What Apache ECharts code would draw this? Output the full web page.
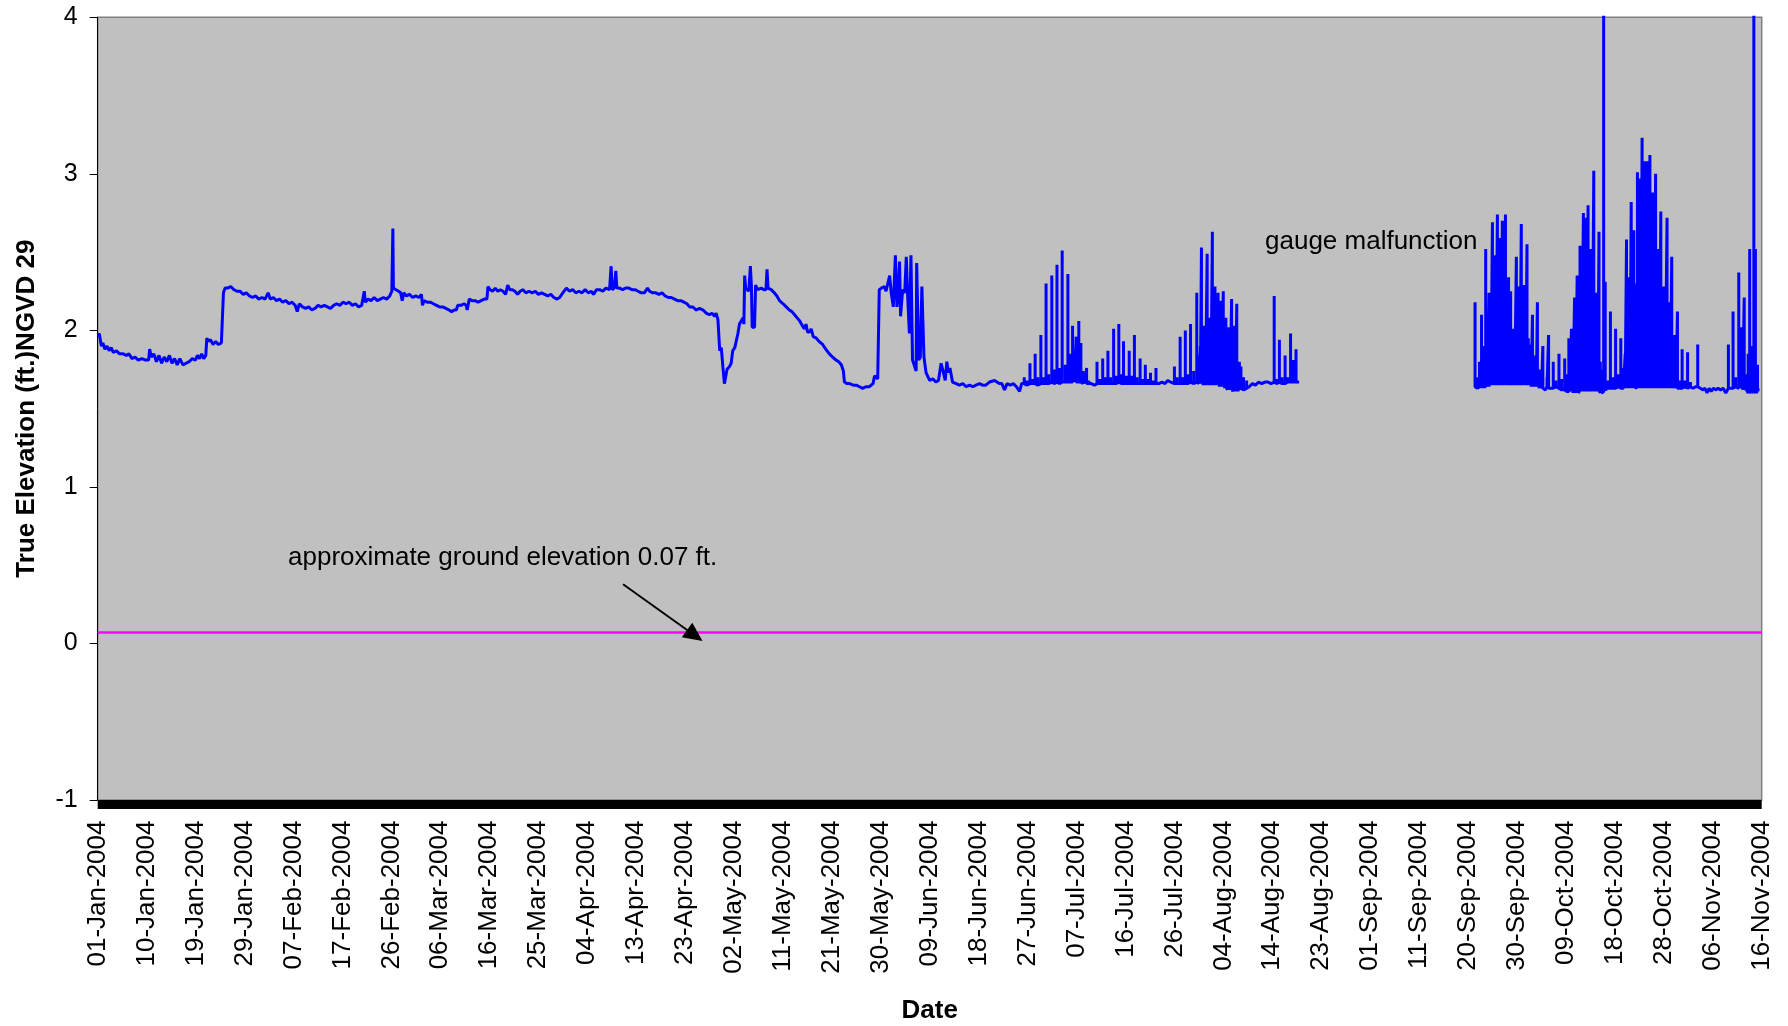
<!DOCTYPE html>
<html><head><meta charset="utf-8">
<script src="https://cdn.jsdelivr.net/npm/echarts@6/dist/echarts.min.js"></script>
<style>html,body{margin:0;padding:0;background:#fff}#chart{width:1788px;height:1026px}</style>
</head><body><div id="chart"></div>
<script>
// ---- data (x = days since 01-Jan-2004, y = elevation ft NGVD 29) ----
const startDateUTC = Date.UTC(2004, 0, 1);
const axisDivisions = 34;
const axisStepDays = 9.418;     // date axis major unit (01-Jan-2004 .. 16-Nov-2004)
const axisDays = axisStepDays * axisDivisions;
const yMin = -1, yMax = 4, yStep = 1;
const monthNames = ['Jan','Feb','Mar','Apr','May','Jun','Jul','Aug','Sep','Oct','Nov','Dec'];
const groundElevation = [[0, 0.07], [320.2, 0.07]];

// pairs [day, level]; triples [day, base, peak] = short spike
const levelJanJun = [[0.1,1.96],[0.3,1.98],[0.7,1.9],[1.0,1.92],[1.4,1.88],[1.8,1.9],[2.2,1.87],[2.6,1.89],[3.0,1.86],[3.6,1.87],[4.2,1.85],[4.9,1.85],[5.5,1.84],[6.0,1.85],[6.6,1.82],[7.2,1.83],[7.8,1.81],[8.5,1.82],[9.2,1.81],[9.8,1.81],[10.0,1.88],[10.3,1.83],[10.8,1.85],[11.3,1.8],[11.8,1.84],[12.3,1.79],[12.8,1.83],[13.3,1.8],[13.8,1.84],[14.3,1.79],[14.8,1.82],[15.3,1.78],[15.8,1.82],[16.4,1.78],[17.0,1.79],[17.6,1.8],[18.2,1.82],[18.8,1.81],[19.2,1.84],[19.6,1.82],[20.0,1.85],[20.4,1.82],[20.8,1.84],[21.0,1.95],[21.3,1.93],[21.7,1.94],[22.2,1.91],[22.7,1.93],[23.2,1.91],[23.8,1.92],[24.1,1.93],[24.2,2.24],[24.5,2.27],[25.0,2.27],[25.6,2.28],[26.2,2.26],[26.8,2.25],[27.4,2.25],[28.0,2.23],[28.6,2.24],[29.2,2.22],[29.8,2.21],[30.4,2.22],[31.0,2.2],[31.6,2.21],[32.2,2.2],[32.8,2.24],[33.2,2.2],[33.8,2.21],[34.4,2.19],[35.0,2.2],[35.6,2.18],[36.2,2.19],[36.8,2.17],[37.4,2.18],[38.0,2.16],[38.4,2.12],[38.8,2.17],[39.4,2.15],[40.0,2.14],[40.6,2.15],[41.2,2.13],[41.8,2.14],[42.4,2.16],[43.0,2.15],[43.6,2.16],[44.2,2.15],[44.8,2.14],[45.4,2.16],[46.0,2.17],[46.6,2.16],[47.2,2.18],[47.8,2.17],[48.4,2.18],[49.0,2.16],[49.6,2.17],[50.2,2.15],[50.8,2.16],[51.3,2.25],[51.5,2.18],[52.0,2.2],[52.6,2.19],[53.2,2.21],[53.8,2.19],[54.4,2.2],[55.0,2.21],[55.6,2.2],[56.2,2.22],[56.6,2.25],[56.8,2.65],[56.9,2.27],[57.4,2.26],[57.9,2.25],[58.3,2.24],[58.6,2.19],[58.9,2.24],[59.4,2.22],[60.0,2.23],[60.6,2.21],[61.2,2.22],[61.8,2.21],[62.3,2.23],[62.5,2.16],[62.8,2.19],[63.4,2.18],[64.0,2.18],[64.6,2.17],[65.2,2.16],[65.8,2.15],[66.4,2.15],[67.0,2.14],[67.6,2.13],[68.1,2.12],[68.6,2.13],[69.0,2.13],[69.3,2.16],[69.9,2.16],[70.5,2.17],[70.9,2.16],[71.1,2.13],[71.5,2.2],[72.0,2.19],[72.6,2.19],[73.2,2.18],[73.8,2.19],[74.4,2.2],[74.9,2.2],[75.1,2.28],[75.5,2.26],[76.0,2.25],[76.5,2.27],[77.0,2.25],[77.5,2.26],[78.0,2.25],[78.5,2.23],[78.9,2.29],[79.3,2.26],[79.8,2.26],[80.3,2.25],[80.8,2.23],[81.3,2.25],[81.8,2.26],[82.4,2.24],[83.0,2.25],[83.6,2.24],[84.2,2.25],[84.8,2.23],[85.4,2.24],[86.0,2.23],[86.6,2.22],[87.2,2.23],[87.8,2.21],[88.4,2.2],[88.9,2.21],[89.5,2.24],[90.2,2.27],[90.8,2.25],[91.4,2.26],[92.0,2.24],[92.6,2.25],[93.2,2.24],[93.8,2.26],[94.4,2.24],[95.0,2.25],[95.4,2.23],[96.0,2.26],[96.6,2.26],[97.2,2.25],[97.8,2.27],[98.5,2.26],[98.8,2.41],[99.0,2.26],[99.4,2.27],[99.7,2.38],[99.9,2.27],[100.4,2.27],[101.0,2.26],[101.6,2.27],[102.2,2.27],[102.8,2.26],[103.4,2.26],[104.0,2.25],[104.6,2.24],[105.2,2.24],[105.8,2.27],[106.2,2.25],[106.8,2.24],[107.4,2.24],[108.0,2.23],[108.6,2.24],[109.2,2.22],[109.8,2.21],[110.4,2.21],[111.0,2.2],[111.6,2.19],[112.2,2.19],[112.8,2.18],[113.4,2.17],[113.9,2.15],[114.5,2.15],[115.2,2.13],[115.8,2.14],[116.5,2.13],[117.1,2.11],[117.7,2.1],[118.2,2.11],[118.7,2.09],[119.0,2.11],[119.35,2.07],[119.7,1.87],[120.0,1.89],[120.3,1.77],[120.6,1.66],[120.95,1.65],[121.1,1.75],[121.6,1.77],[121.9,1.79],[122.2,1.87],[122.6,1.89],[122.9,1.9],[123.2,1.98],[123.5,2.04],[124.2,2.08],[124.35,2.04],[124.5,2.35],[124.7,2.27],[125.0,2.27],[125.3,2.25],[125.6,2.41],[125.8,2.28],[125.95,2.02],[126.4,2.02],[126.6,2.29],[127.0,2.26],[127.7,2.27],[128.2,2.26],[128.6,2.26],[128.8,2.39],[129.0,2.27],[129.6,2.26],[130.2,2.24],[130.7,2.22],[131.2,2.19],[131.9,2.17],[132.5,2.15],[133.1,2.13],[133.6,2.12],[134.1,2.1],[134.6,2.08],[135.1,2.06],[135.4,2.07],[135.6,2.03],[136.0,2.01],[136.3,2.04],[136.6,1.99],[137.0,1.99],[137.3,2.01],[137.7,1.96],[138.3,1.95],[138.8,1.93],[139.5,1.91],[140.1,1.88],[140.8,1.85],[141.4,1.83],[142.1,1.81],[142.6,1.8],[143.1,1.78],[143.5,1.74],[143.7,1.67],[144.2,1.66],[144.7,1.66],[145.4,1.65],[146.0,1.65],[146.6,1.64],[147.2,1.63],[147.8,1.64],[148.5,1.64],[149.2,1.66],[149.5,1.71],[150.1,1.69],[150.4,2.26],[150.8,2.27],[151.1,2.26],[151.4,2.28],[151.7,2.25],[152.0,2.24],[152.4,2.35],[152.7,2.24],[153.1,2.15],[153.5,2.48],[153.8,2.15],[154.1,2.26],[154.3,2.44],[154.5,2.09],[154.9,2.26],[155.3,2.24],[155.6,2.47],[155.9,2.19],[156.2,1.98],[156.5,2.48],[156.8,1.81],[157.2,1.77],[157.5,1.74],[157.6,2.43],[158.0,1.81],[158.3,1.83],[158.6,2.28],[159.0,1.83],[159.4,1.73],[160.1,1.68],[160.7,1.69],[161.3,1.67],[161.8,1.68],[162.3,1.79],[162.75,1.73],[163.1,1.68],[163.4,1.8],[163.7,1.73],[164.0,1.76],[164.5,1.67],[165.2,1.66],[165.8,1.65],[166.5,1.66],[167.1,1.64],[167.8,1.65],[168.4,1.64],[169.0,1.65],[169.7,1.66],[170.3,1.65],[170.9,1.65],[171.6,1.67]];

const levelJunAug = [[172.6,1.68],[173.5,1.66],[174.0,1.66],[174.5,1.62],[175.0,1.66],[175.6,1.65],[176.2,1.66],[176.8,1.64],[177.4,1.61],[177.8,1.66],
[178.3,1.66,1.70],[178.8,1.65,1.68],[179.4,1.66,1.79],[179.9,1.66,1.69],[180.4,1.66,1.85],[180.9,1.65,1.70],[181.5,1.66,1.97],[182.0,1.66,1.70],[182.5,1.66,2.3],[183.0,1.66,1.72],[183.6,1.67,2.35],[184.1,1.66,1.75],[184.6,1.67,2.42],[185.1,1.66,1.76],[185.6,1.67,2.51],[186.2,1.67,1.78],[186.7,1.67,2.36],[187.2,1.67,1.85],[187.6,1.67,2.03],[187.95,1.67,1.8],[188.3,1.67,1.96],[188.8,1.67,2.06],[189.2,1.67,1.92],[189.6,1.66,1.74],[189.95,1.66,1.7],[190.3,1.66,1.76],[190.7,1.66,1.68],
[191.2,1.66],[191.8,1.65],
[192.3,1.66,1.8],[192.85,1.66,1.69],[193.4,1.66,1.82],[193.9,1.66,1.7],[194.4,1.66,1.87],[194.9,1.66,1.7],[195.5,1.66,2.01],[196.0,1.66,1.71],[196.5,1.67,2.04],[196.95,1.66,1.72],[197.4,1.66,1.93],[197.95,1.66,1.71],[198.5,1.66,1.87],[199.0,1.66,1.71],[199.5,1.66,1.97],[200.0,1.66,1.7],[200.6,1.66,1.82],[201.1,1.66,1.69],[201.6,1.66,1.78],[202.1,1.66,1.69],[202.6,1.66,1.73],[203.1,1.66,1.68],[203.65,1.66,1.76],
[204.2,1.66],[204.8,1.67],[205.4,1.66],[205.9,1.68],[206.5,1.67],
[207.2,1.66,1.77],[207.7,1.66,1.7],[208.3,1.66,1.96],[208.8,1.66,1.7],[209.3,1.66,2.0],[209.8,1.66,1.72],[210.3,1.67,2.04],[210.9,1.66,1.74],[211.5,1.67,2.24],[211.9,1.66,1.84],[212.2,1.66,1.9],[212.4,1.66,2.53],[212.7,1.65,2.0],[212.95,1.66,2.03],[213.2,1.65,1.95],[213.5,1.66,2.49],[213.8,1.65,2.05],[214.0,1.66,2.08],[214.25,1.65,2.0],[214.5,1.66,2.63],[214.75,1.65,2.05],[215.0,1.66,2.28],[215.3,1.65,2.1],[215.6,1.65,2.24],[215.85,1.64,2.0],[216.1,1.65,2.19],[216.35,1.64,2.02],[216.6,1.64,2.25],[216.85,1.63,1.98],[217.1,1.64,2.08],[217.4,1.62,1.95],[217.7,1.63,2.02],[217.95,1.62,1.9],[218.2,1.63,2.2],[218.45,1.61,1.88],[218.7,1.62,2.03],[218.95,1.61,1.85],[219.2,1.62,2.17],[219.45,1.61,1.75],[219.7,1.62,1.8],[220.0,1.63,1.77],[220.5,1.62,1.7],[221.1,1.63,1.68],
[221.6,1.64],[222.2,1.66],[222.8,1.65],[223.4,1.67],[224.0,1.66],[224.6,1.67],[225.2,1.67],[225.8,1.66],
[226.4,1.67,2.22],[226.9,1.66,1.69],[227.4,1.67,1.94],[227.9,1.66,1.7],[228.5,1.66,1.84],[229.0,1.67,1.7],[229.55,1.67,1.98],[230.1,1.67,1.81],[230.6,1.67,1.88],[231.2,1.67]];

const levelSepNov = [[265.05,1.64,2.18],[265.5,1.63,1.7],[265.9,1.64,1.8],[266.3,1.64,2.1],[266.7,1.64,1.9],[267.1,1.64,2.52],[267.45,1.64,2.0],[267.75,1.64,2.24],[268.1,1.65,2.05],[268.4,1.65,2.69],[268.65,1.65,2.2],[268.9,1.65,2.48],[269.1,1.65,2.2],[269.35,1.65,2.74],[269.6,1.65,2.3],[269.9,1.66,2.59],[270.1,1.65,2.3],[270.3,1.66,2.7],[270.6,1.65,2.2],[270.9,1.66,2.74],[271.2,1.65,2.1],[271.5,1.65,2.34],[271.7,1.65,2.0],[271.9,1.65,2.25],[272.15,1.65,1.9],[272.4,1.65,2.01],[272.7,1.65,1.95],[273.0,1.66,2.47],[273.2,1.65,2.0],[273.4,1.66,2.28],[273.7,1.65,2.1],[273.95,1.66,2.68],[274.2,1.65,2.05],[274.5,1.66,2.29],[274.8,1.65,2.1],[275.05,1.65,2.55],[275.3,1.65,1.95],[275.6,1.65,1.91],[275.85,1.64,1.85],[276.1,1.65,2.1],[276.35,1.64,1.8],[276.6,1.64,1.84],[276.85,1.64,1.78],[277.05,1.64,2.18],[277.35,1.63,1.7],[277.6,1.63,1.75],[277.85,1.63,1.7],[278.1,1.63,1.9],[278.6,1.62],[278.9,1.64,1.7],[279.2,1.63,1.97],[279.6,1.63],[280.1,1.63,1.8],[280.6,1.64,1.68],[281.2,1.63,1.85],[281.7,1.62,1.69],[282.3,1.62,1.82],[282.7,1.61,1.72],[283.1,1.61,1.95],[283.35,1.61,1.8],[283.6,1.61,2.01],[283.9,1.6,1.75],[284.2,1.61,2.21],[284.45,1.6,1.85],[284.7,1.61,2.35],[284.95,1.6,1.9],[285.25,1.62,2.54],[285.55,1.61,2.0],[285.9,1.62,2.75],[286.1,1.61,2.3],[286.35,1.62,2.72],[286.55,1.61,2.2],[286.8,1.62,2.8],[287.05,1.61,2.3],[287.3,1.62,2.52],[287.6,1.61,2.2],[287.9,1.62,3.02],[288.2,1.61,2.0],[288.45,1.62,2.24],[288.7,1.61,1.9],[288.9,1.62,2.63],[289.15,1.6,1.8],[289.4,1.6,1.75],[289.8,1.61,4.3],[290.1,1.62,2.31],[290.6,1.63,1.68],[291.1,1.63,2.12],[291.6,1.63,1.7],[292.1,1.63,2.01],[292.6,1.64,1.72],[293.1,1.63,1.95],[293.6,1.63,1.76],[293.95,1.63,1.85],[294.2,1.64,2.58],[294.45,1.63,2.1],[294.7,1.64,2.34],[294.9,1.63,2.2],[295.1,1.64,2.82],[295.35,1.63,2.3],[295.6,1.64,2.64],[295.9,1.63,2.3],[296.3,1.64,3.01],[296.5,1.63,2.4],[296.7,1.64,2.97],[296.95,1.63,2.5],[297.2,1.64,3.23],[297.45,1.63,2.5],[297.7,1.64,3.08],[297.95,1.63,2.6],[298.2,1.64,3.08],[298.45,1.63,2.5],[298.7,1.64,3.12],[298.95,1.63,2.4],[299.2,1.64,2.88],[299.5,1.63,2.4],[299.8,1.64,3.0],[300.05,1.63,2.2],[300.3,1.64,2.52],[300.55,1.63,2.2],[300.8,1.64,2.76],[301.05,1.63,2.0],[301.3,1.63,2.28],[301.65,1.63,2.0],[302.0,1.64,2.72],[302.2,1.63,1.9],[302.4,1.63,2.18],[302.65,1.63,1.9],[302.9,1.63,2.47],[303.2,1.63,1.8],[303.5,1.63,1.97],[303.75,1.63,1.75],[304.0,1.63,2.12],[304.4,1.63,1.68],[304.9,1.63,1.88],[305.4,1.64,1.68],[305.95,1.63,1.86],[306.5,1.64,1.67],[307.0,1.63],[307.5,1.64],[307.9,1.64,1.91],[308.4,1.63],[308.9,1.62],[309.3,1.63],[309.7,1.6],[310.1,1.63],[310.5,1.61],[310.9,1.63],[311.4,1.62],[311.8,1.63],[312.3,1.62],[312.8,1.63],[313.3,1.6],[313.8,1.63,1.91],[314.2,1.63],[314.7,1.63,2.12],[315.2,1.64,1.7],[315.8,1.63,2.37],[316.05,1.63,1.8],[316.3,1.63,2.02],[316.55,1.62,1.75],[316.85,1.63,2.21],[317.3,1.62,1.72],[317.6,1.6,1.85],[317.9,1.62,2.52],[318.2,1.6,1.75],[318.45,1.62,1.9],[318.7,1.6,4.3],[319.0,1.62,2.52],[319.2,1.6,1.75],[319.4,1.62,1.78],[319.8,1.62]];

// ---- build polylines from the typed readings ----
function toPolyline(rows) {
  const out = [];
  rows.forEach(r => {
    if (r.length === 3) { out.push([r[0], r[1]], [r[0], r[2]], [r[0], r[1]]); }
    else out.push([r[0], r[1]]);
  });
  return out;
}
const beforeGap = toPolyline(levelJanJun).concat(toPolyline(levelJunAug));
const afterGap = toPolyline(levelSepNov);

const FONT = '"Liberation Sans", Arial, Helvetica, sans-serif';
function pad(n) { return (n < 10 ? '0' : '') + n; }
function dayLabel(v) {
  const d = Math.floor(v + 1e-6);
  const dt = new Date(startDateUTC + d * 86400000);
  return pad(dt.getUTCDate()) + '-' + monthNames[dt.getUTCMonth()] + '-' + dt.getUTCFullYear();
}

const chart = echarts.init(document.getElementById('chart'), null, { renderer: 'canvas' });
chart.setOption({
  animation: false,
  backgroundColor: '#ffffff',
  textStyle: { fontFamily: FONT },
  grid: { left: 97.7, right: 26.3, top: 17.3, bottom: 226, show: true, containLabel: false,
          outerBoundsMode: 'none',
          backgroundColor: '#C0C0C0', borderColor: '#808080', borderWidth: 1.5 },
  xAxis: {
    type: 'value', min: 0, max: axisDays, interval: axisStepDays,
    offset: 4.5,
    axisLine: { show: true, onZero: false, lineStyle: { color: '#000', width: 9, cap: 'butt' } },
    axisTick: { show: false },
    splitLine: { show: false },
    axisLabel: { rotate: 90, margin: 16, fontSize: 26, color: '#000', fontFamily: FONT, formatter: dayLabel },
    name: 'Date', nameLocation: 'middle', nameGap: 193,
    nameTextStyle: { fontSize: 26, fontWeight: 'bold', color: '#000', fontFamily: FONT }
  },
  yAxis: {
    type: 'value', min: yMin, max: yMax, interval: yStep,
    axisLine: { show: true, lineStyle: { color: '#000', width: 1 } },
    axisTick: { show: true, length: 8, lineStyle: { color: '#000', width: 1 } },
    splitLine: { show: false },
    axisLabel: { fontSize: 25, margin: 20, color: '#000', fontFamily: FONT },
    name: 'True Elevation (ft.)NGVD 29', nameLocation: 'middle', nameGap: 58,
    nameTextStyle: { fontSize: 26, fontWeight: 'bold', color: '#000', fontFamily: FONT }
  },
  series: [
    { type: 'line', name: 'ground', data: groundElevation, symbol: 'none', silent: true,
      lineStyle: { color: '#FF00FF', width: 2.5 },
      markLine: { silent: true, symbol: ['none', 'triangle'], symbolSize: [18, 19],
        label: { show: false }, emphasis: { disabled: true },
        lineStyle: { color: '#000', width: 2, type: 'solid' },
        data: [[{ coord: [101.1, 0.378] }, { coord: [114.9, 0.051] }]] } },
    { type: 'line', name: 'level', data: beforeGap, symbol: 'none', silent: true,
      lineStyle: { color: '#0000FF', width: 3 } },
    { type: 'line', name: 'level2', data: afterGap, symbol: 'none', silent: true,
      lineStyle: { color: '#0000FF', width: 3 } }
  ],
  graphic: [
    { type: 'text', x: 288, y: 558, silent: true,
      style: { text: 'approximate ground elevation 0.07 ft.', fontSize: 26, fontFamily: FONT, fill: '#000', verticalAlign: 'middle', align: 'left' } },
    { type: 'text', x: 1265, y: 242, silent: true,
      style: { text: 'gauge malfunction', fontSize: 26, fontFamily: FONT, fill: '#000', verticalAlign: 'middle', align: 'left' } }
  ]
});
</script></body></html>
